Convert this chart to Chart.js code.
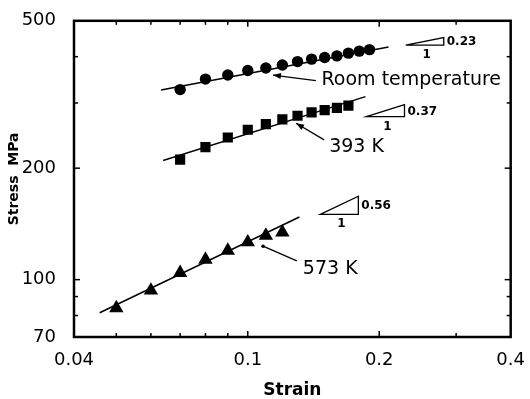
<!DOCTYPE html>
<html>
<head>
<meta charset="utf-8">
<script src="https://cdn.jsdelivr.net/npm/chart.js@4/dist/chart.umd.min.js"></script>
<style>
  body { margin: 0; background: #fff; }
  canvas { display: block; }
</style>
</head>
<body>
<canvas id="chart" width="530" height="399"></canvas>
<script>
// measured points (strain, stress in MPa)
const strainRT = [0.07, 0.08, 0.09, 0.10, 0.11, 0.12, 0.13, 0.14, 0.15, 0.16, 0.17, 0.18, 0.19];
const stressRT = [326, 348, 357, 367, 373, 380, 388, 394, 398, 402, 409, 414, 418];
const strain393 = [0.07, 0.08, 0.09, 0.10, 0.11, 0.12, 0.13, 0.14, 0.15, 0.16, 0.17];
const stress393 = [211, 228, 242, 254, 263, 271, 277, 283, 287, 291, 295];
const strain573 = [0.05, 0.06, 0.07, 0.08, 0.09, 0.10, 0.11, 0.12];
const stress573 = [83.8, 93.5, 104.3, 113.3, 119.8, 126.2, 131.5, 134.2];

// fitted lines (end points)
const fitStrainRT = [0.0633, 0.210];
const fitStressRT = [325, 425];
const fitStrain393 = [0.064, 0.186];
const fitStress393 = [209.7, 312];
const fitStrain573 = [0.0458, 0.1313];
const fitStress573 = [81.4, 147.6];

// axis ticks
const xTickValues = [0.04, 0.05, 0.06, 0.07, 0.08, 0.09, 0.1, 0.2, 0.3, 0.4];
const xTickLabels = ['0.04', '', '', '', '', '', '0.1', '0.2', '', '0.4'];
const yTickValues = [70, 80, 90, 100, 200, 300, 400, 500];
const yTickLabels = ['70', '', '', '100', '200', '', '', '500'];
const xMajor = [0.1, 0.2];
const yMajor = [100, 200];

// slope triangles
const slopeValues = [0.23, 0.37, 0.56];
const slopeStrain = [0.23, 0.187, 0.1466];   // base left corner
const slopeStress = [430, 275.6, 150.1];

// curve labels and their pointers
const curveLabels = ['Room temperature', '393 K', '573 K'];
const labelStrain = [0.1475, 0.1536, 0.1337];
const labelStress = [346.8, 227.9, 107.1];
const pointerFrom = [[0.1432, 344.8], [0.1496, 238.5], [0.1295, 112.4]];
const pointerTo = [[0.1142, 356.9], [0.129, 264.4], [0.1084, 123.1]];
const pointerHead = ['arrow', 'arrow', 'dot'];

const pts = (xs, ys) => xs.map((v, i) => ({ x: v, y: ys[i] }));
const FONT = '"DejaVu Sans", sans-serif';

// draws the frame, inward ticks, labels, arrows and slope triangles
const extras = {
    id: 'extras',
    afterDatasetsDraw(chart) {
        const { ctx, chartArea: a, scales: { x, y } } = chart;
        const seg = (x1, y1, x2, y2) => { ctx.beginPath(); ctx.moveTo(x1, y1); ctx.lineTo(x2, y2); ctx.stroke(); };
        ctx.save();
        ctx.strokeStyle = '#000';
        ctx.fillStyle = '#000';

        ctx.lineWidth = 2.5;
        ctx.strokeRect(a.left, a.top, a.right - a.left, a.bottom - a.top);

        ctx.lineWidth = 1.5;
        xTickValues.slice(1, -1).forEach(v => {
            const px = x.getPixelForValue(v);
            const len = xMajor.includes(v) ? 6 : 4;
            seg(px, a.bottom, px, a.bottom - len);
            seg(px, a.top, px, a.top + len);
        });
        yTickValues.slice(1, -1).forEach(v => {
            const py = y.getPixelForValue(v);
            const len = yMajor.includes(v) ? 6 : 4;
            seg(a.left, py, a.left + len, py);
            seg(a.right, py, a.right - len, py);
        });

        // curve labels
        ctx.font = '19px ' + FONT;
        ctx.textAlign = 'left';
        ctx.textBaseline = 'middle';
        curveLabels.forEach((t, i) => {
            ctx.fillText(t, x.getPixelForValue(labelStrain[i]), y.getPixelForValue(labelStress[i]));
        });

        // pointers
        ctx.lineWidth = 1.3;
        pointerFrom.forEach((f, i) => {
            const x1 = x.getPixelForValue(f[0]), y1 = y.getPixelForValue(f[1]);
            const x2 = x.getPixelForValue(pointerTo[i][0]), y2 = y.getPixelForValue(pointerTo[i][1]);
            seg(x1, y1, x2, y2);
            if (pointerHead[i] === 'arrow') {
                const ang = Math.atan2(y2 - y1, x2 - x1);
                ctx.beginPath();
                ctx.moveTo(x2, y2);
                ctx.lineTo(x2 - 8 * Math.cos(ang) + 3 * Math.sin(ang), y2 - 8 * Math.sin(ang) - 3 * Math.cos(ang));
                ctx.lineTo(x2 - 8 * Math.cos(ang) - 3 * Math.sin(ang), y2 - 8 * Math.sin(ang) + 3 * Math.cos(ang));
                ctx.closePath();
                ctx.fill();
            } else {
                ctx.beginPath();
                ctx.arc(x2, y2, 1.8, 0, Math.PI * 2);
                ctx.fill();
            }
        });

        // slope triangles
        ctx.font = 'bold 12px ' + FONT;
        slopeValues.forEach((s, i) => {
            const bx = x.getPixelForValue(slopeStrain[i]);
            const by = y.getPixelForValue(slopeStress[i]);
            const rx = x.getPixelForValue(slopeStrain[i] * 1.222);
            const ty = y.getPixelForValue(slopeStress[i] * Math.pow(1.222, s));
            ctx.lineWidth = 1.3;
            ctx.beginPath();
            ctx.moveTo(bx, by);
            ctx.lineTo(rx, by);
            ctx.lineTo(rx, ty);
            ctx.closePath();
            ctx.stroke();
            ctx.textAlign = 'left';
            ctx.fillText(s.toFixed(2), rx + 3, (by + ty) / 2 + 1);
            ctx.textAlign = 'center';
            ctx.fillText('1', (bx + rx) / 2 + 2, by + 10);
        });
        ctx.restore();
    }
};

const lineStyle = { showLine: true, borderColor: '#000', borderWidth: 1.5, pointRadius: 0 };
const markStyle = { showLine: false, backgroundColor: '#000', borderColor: '#000', borderWidth: 0 };

new Chart('chart', {
    type: 'scatter',
    data: {
        datasets: [
            { ...lineStyle, data: pts(fitStrainRT, fitStressRT) },
            { ...lineStyle, data: pts(fitStrain393, fitStress393) },
            { ...lineStyle, data: pts(fitStrain573, fitStress573) },
            { ...markStyle, label: 'Room temperature', pointStyle: 'circle', pointRadius: 5.7, data: pts(strainRT, stressRT) },
            { ...markStyle, label: '393 K', pointStyle: 'rect', pointRadius: 7.2, data: pts(strain393, stress393) },
            { ...markStyle, label: '573 K', pointStyle: 'triangle', pointRadius: 8.3, data: pts(strain573, stress573) }
        ]
    },
    options: {
        responsive: false,
        animation: false,
        layout: { padding: { left: 0, right: 15, top: 20, bottom: 0 } },
        plugins: { legend: { display: false }, tooltip: { enabled: false } },
        scales: {
            x: {
                type: 'logarithmic',
                min: 0.04,
                max: 0.4,
                grid: { display: false },
                border: { display: false },
                afterBuildTicks: s => { s.ticks = xTickValues.map(v => ({ value: v })); },
                afterFit: s => { s.height = 62; },
                ticks: {
                    autoSkip: false,
                    maxRotation: 0,
                    padding: 5,
                    color: '#000',
                    font: { family: FONT, size: 18 },
                    callback: (v, i) => xTickLabels[i]
                },
                title: {
                    display: true,
                    text: 'Strain',
                    color: '#000',
                    padding: { top: 0, bottom: -2 },
                    font: { family: FONT, size: 17, weight: 'bold' }
                }
            },
            y: {
                type: 'logarithmic',
                min: 70,
                max: 500,
                grid: { display: false },
                border: { display: false },
                afterBuildTicks: s => { s.ticks = yTickValues.map(v => ({ value: v })); },
                afterFit: s => { s.width = 74; },
                ticks: {
                    autoSkip: false,
                    padding: 10,
                    color: '#000',
                    font: { family: FONT, size: 18 },
                    callback: (v, i) => yTickLabels[i]
                },
                title: {
                    display: true,
                    text: 'Stress  MPa',
                    color: '#000',
                    padding: { top: 6, bottom: 0 },
                    font: { family: FONT, size: 14, weight: 'bold' }
                }
            }
        }
    },
    plugins: [extras]
});
</script>
</body>
</html>
